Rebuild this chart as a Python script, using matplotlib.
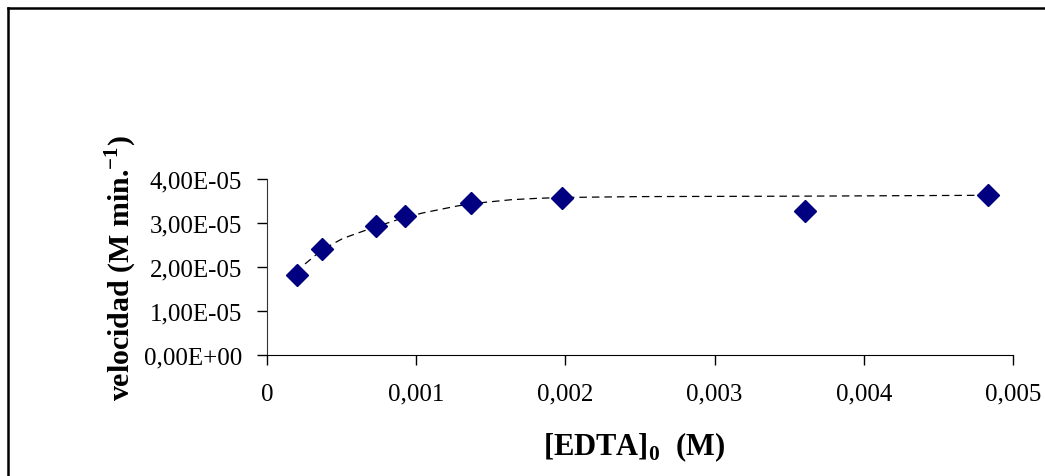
import matplotlib.pyplot as plt
from matplotlib.lines import Line2D
from matplotlib.ticker import FuncFormatter

plt.rcParams['font.family'] = ['Liberation Serif', 'DejaVu Serif']
plt.rcParams['mathtext.fontset'] = 'custom'
plt.rcParams['mathtext.rm'] = 'Liberation Serif'
plt.rcParams['mathtext.bf'] = 'Liberation Serif:bold'

# measured points
edta = [0.000201, 0.000369, 0.00073, 0.000925, 0.001367, 0.001977, 0.003606, 0.004832]
vel = [1.82e-5, 2.41e-5, 2.93e-5, 3.16e-5, 3.45e-5, 3.57e-5, 3.27e-5, 3.64e-5]

# dashed trend curve
fit_x = [0.000255, 0.000369, 0.000509, 0.00069, 0.00079, 0.000925, 0.001046, 0.00128,
         0.00146, 0.00164, 0.00181, 0.00198, 0.0025, 0.00357, 0.00483]
fit_y = [2.07e-5, 2.39e-5, 2.65e-5, 2.87e-5, 2.98e-5, 3.13e-5, 3.23e-5, 3.39e-5,
         3.47e-5, 3.53e-5, 3.56e-5, 3.58e-5, 3.60e-5, 3.61e-5, 3.63e-5]

xticks = [0, 0.001, 0.002, 0.003, 0.004, 0.005]
yticks = [0, 1e-5, 2e-5, 3e-5, 4e-5]

fig = plt.figure(figsize=(10.45, 4.77), dpi=100)
ax = fig.add_axes([267 / 1045, 1 - 356 / 477, (1013 - 267) / 1045, (356 - 180) / 477])

ax.plot(fit_x, fit_y, color='black', lw=0.9, dashes=(6, 4), zorder=2)
ax.plot(edta, vel, linestyle='none', marker='D', ms=11, color='#000080', zorder=3)

ax.set_xlim(0, 0.005)
ax.set_ylim(0, 4e-5)
ax.set_xticks(xticks)
ax.set_yticks(yticks)


def fmt_x(v, pos):
    if v == 0:
        return '0'
    return ('%.3f' % v).replace('.', ',')


def fmt_y(v, pos):
    s = '%.2E' % v
    return s.replace('.', ',')


ax.xaxis.set_major_formatter(FuncFormatter(fmt_x))
ax.yaxis.set_major_formatter(FuncFormatter(fmt_y))
ax.tick_params(direction='out', length=7, width=1, labelsize=18)
ax.tick_params(axis='y', pad=11)
ax.tick_params(axis='x', pad=13)

ax.spines['top'].set_visible(False)
ax.spines['right'].set_visible(False)
ax.spines['left'].set_color('#333333')

ax.set_ylabel(r'velocidad (M min.$^{\mathbf{-1}}$)', fontsize=21.5, fontweight='bold')
ax.yaxis.set_label_coords(-0.172, 0.5)
fig.text(634 / 1045, 1 - 447 / 477, r'[EDTA]$_{\mathbf{0}}$  (M)', fontsize=22,
         fontweight='bold', ha='center', va='center')

# outer chart frame
fig.add_artist(Line2D([8 / 1045, 1.0], [1 - 9 / 477, 1 - 9 / 477], color='black', lw=1.8))
fig.add_artist(Line2D([8 / 1045, 8 / 1045], [0, 1 - 9 / 477], color='black', lw=1.8))

fig.savefig('out.png', dpi=100)
